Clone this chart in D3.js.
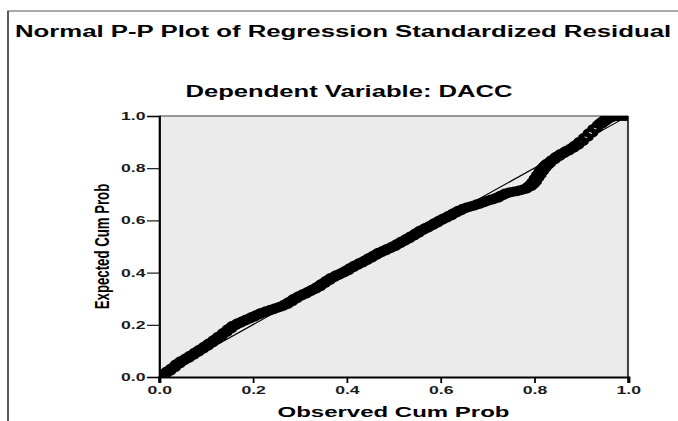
<!DOCTYPE html>
<html>
<head>
  <meta charset="utf-8">
  <script src="https://cdn.jsdelivr.net/npm/d3@7"></script>
  <style>
body { margin: 0; background: #fff; }
text {
  font-family: "Liberation Sans", Arial, sans-serif;
  font-weight: bold;
  fill: #000;
}
.tick text { font-size: 11px; fill: #1a1a1a; }
  </style>
</head>
<body>
<svg width="678" height="421"></svg>
<script>

const xTicks = [0.0, 0.2, 0.4, 0.6, 0.8, 1.0];
const yTicks = [0.0, 0.2, 0.4, 0.6, 0.8, 1.0];

// observed cum prob (x) and expected cum prob (y)
const observed = [
  0.00, 0.01, 0.02, 0.03, 0.04, 0.05, 0.06, 0.07, 0.08, 0.09,
  0.10, 0.11, 0.12, 0.13, 0.14, 0.15, 0.16, 0.17, 0.18, 0.19,
  0.20, 0.21, 0.22, 0.23, 0.24, 0.25, 0.26, 0.27, 0.28, 0.29,
  0.30, 0.31, 0.32, 0.33, 0.34, 0.35, 0.36, 0.37, 0.38, 0.39,
  0.40, 0.41, 0.42, 0.43, 0.44, 0.45, 0.46, 0.47, 0.48, 0.49,
  0.50, 0.51, 0.52, 0.53, 0.54, 0.55, 0.56, 0.57, 0.58, 0.59,
  0.60, 0.61, 0.62, 0.63, 0.64, 0.65, 0.66, 0.67, 0.68, 0.69,
  0.70, 0.71, 0.72, 0.73, 0.74, 0.75, 0.76, 0.77, 0.78, 0.79,
  0.795, 0.80, 0.805, 0.81, 0.815, 0.82, 0.825, 0.83, 0.84, 0.85,
  0.86, 0.87, 0.88, 0.89, 0.90, 0.91, 0.92, 0.93, 0.94, 0.945,
  0.95, 0.955, 0.96, 0.97, 0.98, 0.99, 1.00
];
const expected = [
  0.000, 0.010, 0.022, 0.035, 0.050, 0.062, 0.072, 0.083, 0.095, 0.106,
  0.118, 0.130, 0.143, 0.156, 0.170, 0.184, 0.197, 0.206, 0.214, 0.222,
  0.230, 0.238, 0.246, 0.252, 0.258, 0.264, 0.270, 0.278, 0.288, 0.300,
  0.310, 0.318, 0.327, 0.336, 0.346, 0.358, 0.370, 0.381, 0.390, 0.398,
  0.407, 0.418, 0.428, 0.437, 0.446, 0.456, 0.466, 0.476, 0.484, 0.492,
  0.500, 0.510, 0.520, 0.530, 0.540, 0.551, 0.562, 0.571, 0.580, 0.590,
  0.600, 0.609, 0.618, 0.628, 0.637, 0.645, 0.651, 0.656, 0.662, 0.668,
  0.675, 0.680, 0.686, 0.695, 0.703, 0.708, 0.711, 0.715, 0.720, 0.730,
  0.738, 0.748, 0.762, 0.775, 0.788, 0.800, 0.810, 0.818, 0.832, 0.845,
  0.856, 0.866, 0.876, 0.888, 0.902, 0.918, 0.935, 0.952, 0.968, 0.975,
  0.982, 0.988, 0.993, 0.998, 1.000, 1.000, 1.000
];

// the picture is stretched sideways, so everything is drawn in a narrower
// space and scaled out horizontally
const sx = 1.6;
const W = 678 / sx,
      H = 421;
const plot = {left: 159 / sx, right: 628 / sx, top: 116, bottom: 377};

var svg = d3.select("svg");
var g = svg.append("g").attr("transform", `scale(${sx},1)`);

var x = d3.scaleLinear().domain([0, 1]).range([plot.left, plot.right]);
var y = d3.scaleLinear().domain([0, 1]).range([plot.bottom, plot.top]);

// outer frame (left and top edges only)
g.append("path")
 .attr("d", `M${8 / sx},${H}V11H${W}`)
 .attr("fill", "none")
 .attr("stroke", "#555")
 .attr("stroke-width", 1.2);

g.append("text")
 .attr("x", 15 / sx)
 .attr("y", 37)
 .style("font-size", "16.1px")
 .text("Normal P-P Plot of Regression Standardized Residual");

g.append("text")
 .attr("x", 349 / sx)
 .attr("y", 97)
 .attr("text-anchor", "middle")
 .style("font-size", "16px")
 .text("Dependent Variable: DACC");

// plot area
g.append("rect")
 .attr("x", x(0)).attr("y", y(1))
 .attr("width", x(1) - x(0)).attr("height", y(0) - y(1))
 .attr("fill", "#ebebeb");

g.append("line")
 .attr("x1", x(0)).attr("x2", x(1))
 .attr("y1", y(1)).attr("y2", y(1))
 .attr("stroke", "#777").attr("stroke-width", 1.3);

g.append("line")
 .attr("x1", x(1)).attr("x2", x(1))
 .attr("y1", y(1)).attr("y2", y(0))
 .attr("stroke", "#444").attr("stroke-width", 1.3);

g.append("clipPath").attr("id", "clip")
 .append("rect")
 .attr("x", x(0)).attr("y", y(1))
 .attr("width", x(1) - x(0)).attr("height", y(0) - y(1));

var pts = observed.map((o, i) => ({o: o, e: expected[i]}));

g.append("g")
 .attr("clip-path", "url(#clip)")
 .selectAll("circle")
 .data(pts)
 .enter().append("circle")
 .attr("cx", d => x(d.o))
 .attr("cy", d => y(d.e))
 .attr("r", 3)
 .attr("fill", "none")
 .attr("stroke", "#000")
 .attr("stroke-width", 3.8);

// reference diagonal
g.append("line")
 .attr("x1", x(0)).attr("y1", y(0))
 .attr("x2", x(1)).attr("y2", y(1))
 .attr("stroke", "#000")
 .attr("stroke-width", 1);

// axes
var yAxis = g.append("g")
 .attr("transform", `translate(${x(0)},0)`)
 .call(d3.axisLeft(y)
         .tickValues(yTicks)
         .tickFormat(d3.format(".1f"))
         .tickSizeOuter(0)
         .tickSize(12 / sx)
         .tickPadding(1));

var xAxis = g.append("g")
 .attr("transform", `translate(0,${y(0)})`)
 .call(d3.axisBottom(x)
         .tickValues(xTicks)
         .tickFormat(d3.format(".1f"))
         .tickSizeOuter(0)
         .tickSize(6)
         .tickPadding(3.5));

[xAxis, yAxis].forEach(a => {
  a.selectAll("text").attr("font-family", null).attr("font-size", null);
  a.selectAll(".tick line").attr("stroke", "#000").attr("stroke-width", 1.1);
});
yAxis.select(".domain").attr("stroke", "#000").attr("stroke-width", 1.4);
xAxis.select(".domain").attr("stroke", "#000").attr("stroke-width", 2);

g.append("text")
 .attr("x", (x(0) + x(1)) / 2)
 .attr("y", 417)
 .attr("text-anchor", "middle")
 .style("font-size", "15px")
 .text("Observed Cum Prob");

g.append("text")
 .attr("transform", `translate(${109 / sx},${(y(0) + y(1)) / 2}) rotate(-90)`)
 .attr("text-anchor", "middle")
 .style("font-size", "13.2px")
 .text("Expected Cum Prob");

</script>
</body>
</html>
